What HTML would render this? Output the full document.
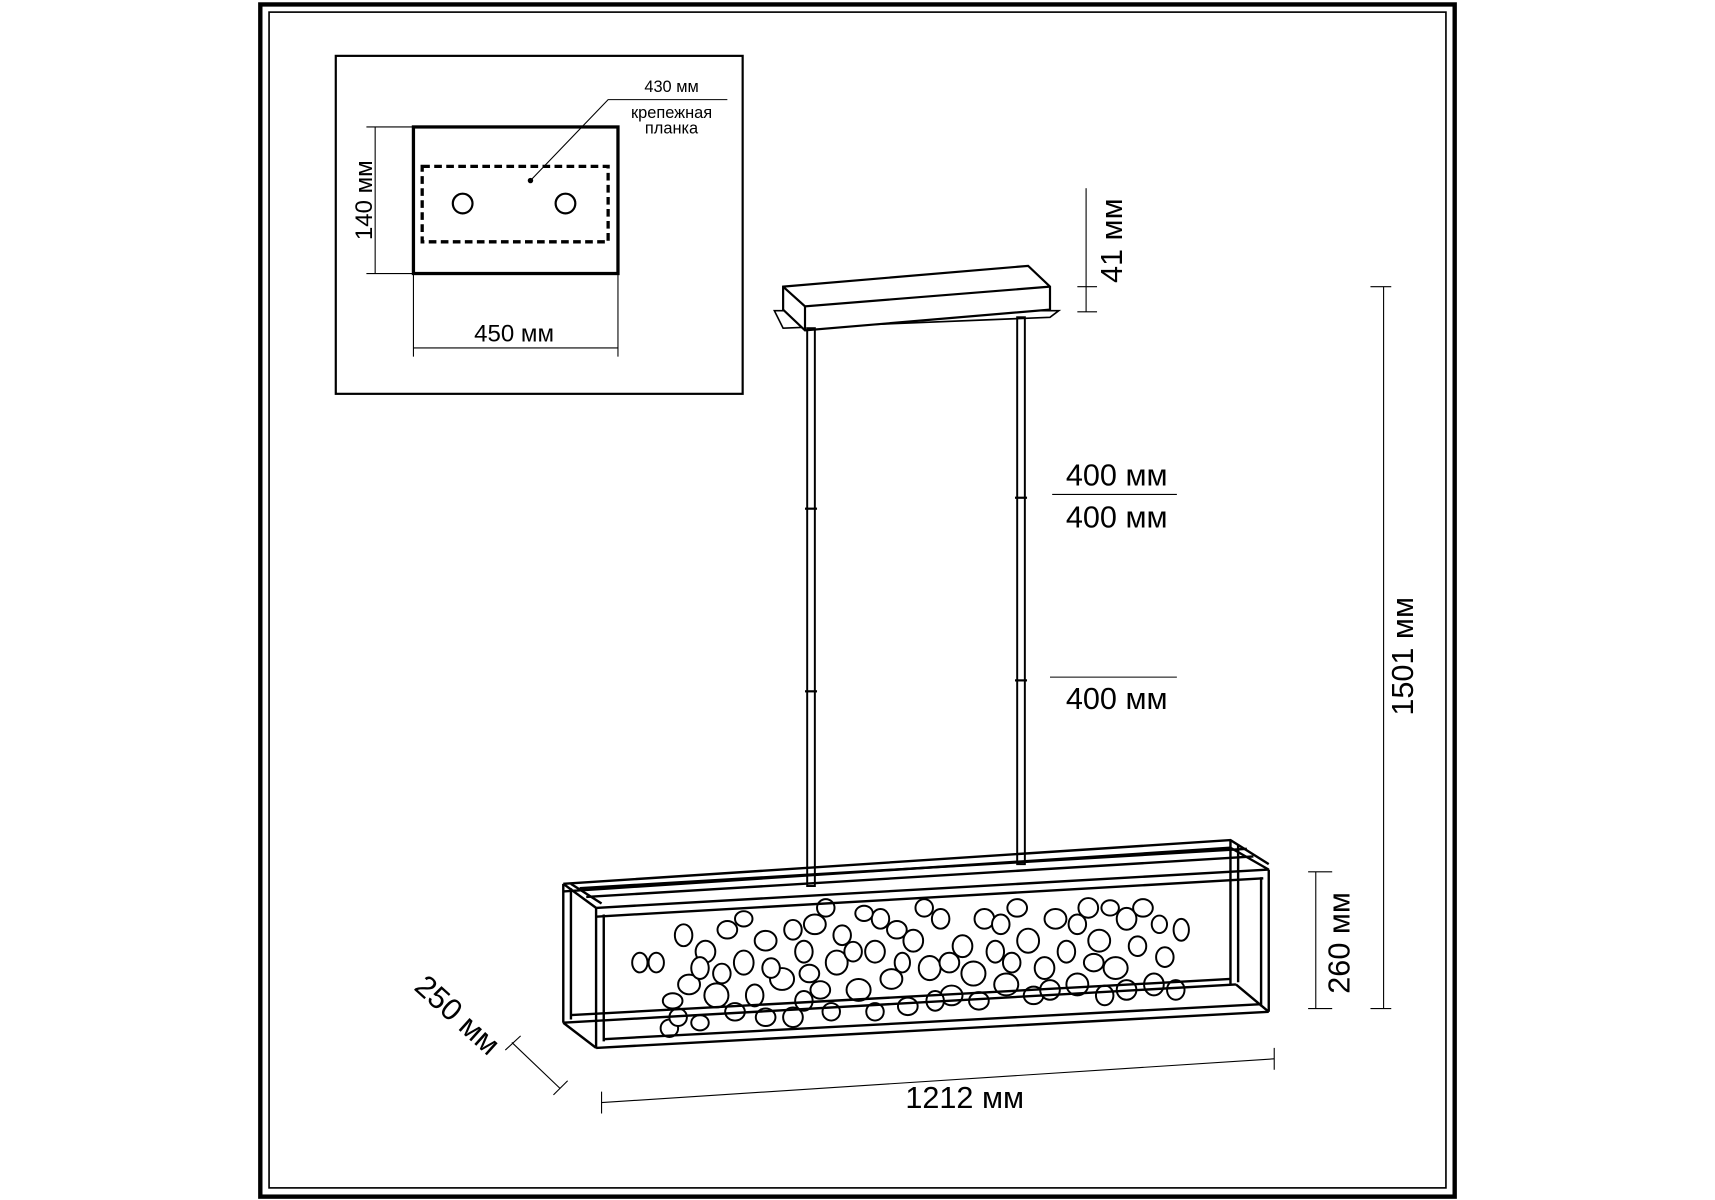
<!DOCTYPE html>
<html><head><meta charset="utf-8"><style>
html,body{margin:0;padding:0;background:#fff;width:1715px;height:1200px;overflow:hidden}
svg{display:block}
text{font-family:"Liberation Sans",sans-serif;fill:#000}
</style></head><body>
<svg width="1715" height="1200" viewBox="0 0 1568 1097" xmlns="http://www.w3.org/2000/svg">
<rect x="0" y="0" width="1568" height="1097" fill="#fff"/>
<rect x="238" y="4" width="1092" height="1090" fill="none" stroke="#000" stroke-width="4"/>
<rect x="246" y="11" width="1076" height="1075" fill="none" stroke="#000" stroke-width="1.5"/>
<rect x="307" y="51" width="372" height="309" fill="none" stroke="#000" stroke-width="2"/>
<rect x="378" y="116" width="187" height="134" fill="none" stroke="#000" stroke-width="3"/>
<rect x="386" y="152" width="170" height="69" fill="none" stroke="#000" stroke-width="3" stroke-dasharray="7,4"/>
<circle cx="423" cy="186" r="9" fill="none" stroke="#000" stroke-width="2"/>
<circle cx="517" cy="186" r="9" fill="none" stroke="#000" stroke-width="2"/>
<circle cx="485" cy="165" r="2.5" fill="#000"/>
<polyline points="485,165 556,91 665,91" fill="none" stroke="#000" stroke-width="1"/>
<text x="614" y="84" font-size="15" text-anchor="middle">430 мм</text>
<text x="614" y="108" font-size="15" text-anchor="middle">крепежная</text>
<text x="614" y="122" font-size="15" text-anchor="middle">планка</text>
<line x1="343" y1="116" x2="343" y2="250" stroke="#000" stroke-width="1"/>
<line x1="335" y1="116" x2="378" y2="116" stroke="#000" stroke-width="1"/>
<line x1="335" y1="250" x2="378" y2="250" stroke="#000" stroke-width="1"/>
<text transform="translate(340,183) rotate(-90)" font-size="22" text-anchor="middle">140 мм</text>
<line x1="378" y1="250" x2="378" y2="326" stroke="#000" stroke-width="1"/>
<line x1="565" y1="250" x2="565" y2="326" stroke="#000" stroke-width="1"/>
<line x1="378" y1="318" x2="565" y2="318" stroke="#000" stroke-width="1"/>
<text x="470" y="312" font-size="22" text-anchor="middle">450 мм</text>
<polygon points="708,284 968,284 960,290 716,300" fill="none" stroke="#000" stroke-width="1.5"/>
<polygon points="716,262 940,243 960,262 960,283 736,302 716,283" fill="#fff" stroke="#000" stroke-width="2"/>
<polyline points="716,262 736,280 960,262" fill="none" stroke="#000" stroke-width="2"/>
<line x1="736" y1="280" x2="736" y2="302" stroke="#000" stroke-width="2"/>
<rect x="738" y="300" width="7" height="510" fill="none" stroke="#000" stroke-width="1.8"/>
<rect x="930" y="290" width="7" height="500" fill="none" stroke="#000" stroke-width="1.8"/>
<line x1="736" y1="465" x2="747" y2="465" stroke="#000" stroke-width="2"/>
<line x1="928" y1="455" x2="939" y2="455" stroke="#000" stroke-width="2"/>
<line x1="736" y1="632" x2="747" y2="632" stroke="#000" stroke-width="2"/>
<line x1="928" y1="622" x2="939" y2="622" stroke="#000" stroke-width="2"/>
<line x1="993" y1="172" x2="993" y2="285" stroke="#000" stroke-width="1"/>
<line x1="985" y1="262" x2="1003" y2="262" stroke="#000" stroke-width="1"/>
<line x1="985" y1="285" x2="1003" y2="285" stroke="#000" stroke-width="1"/>
<text transform="translate(1026,220) rotate(-90)" font-size="28" text-anchor="middle">41 мм</text>
<text x="1021" y="444" font-size="28" text-anchor="middle">400 мм</text>
<line x1="962" y1="452" x2="1076" y2="452" stroke="#000" stroke-width="1"/>
<text x="1021" y="482" font-size="28" text-anchor="middle">400 мм</text>
<line x1="960" y1="619" x2="1076" y2="619" stroke="#000" stroke-width="1"/>
<text x="1021" y="648" font-size="28" text-anchor="middle">400 мм</text>
<line x1="1265" y1="262" x2="1265" y2="922" stroke="#000" stroke-width="1"/>
<line x1="1253" y1="262" x2="1272" y2="262" stroke="#000" stroke-width="1"/>
<line x1="1253" y1="922" x2="1272" y2="922" stroke="#000" stroke-width="1"/>
<text transform="translate(1292,600) rotate(-90)" font-size="28" text-anchor="middle">1501 мм</text>
<line x1="1203" y1="797" x2="1203" y2="922" stroke="#000" stroke-width="1"/>
<line x1="1196" y1="797" x2="1218" y2="797" stroke="#000" stroke-width="1"/>
<line x1="1196" y1="922" x2="1218" y2="922" stroke="#000" stroke-width="1"/>
<text transform="translate(1234,862) rotate(-90)" font-size="28" text-anchor="middle">260 мм</text>
<line x1="468" y1="953" x2="512" y2="995" stroke="#000" stroke-width="1"/>
<line x1="462" y1="960" x2="476" y2="947" stroke="#000" stroke-width="1"/>
<line x1="506" y1="1001" x2="519" y2="988" stroke="#000" stroke-width="1"/>
<text transform="translate(412,935) rotate(42)" font-size="28" text-anchor="middle">250 мм</text>
<line x1="550" y1="1008" x2="1165" y2="968" stroke="#000" stroke-width="1"/>
<line x1="550" y1="998" x2="550" y2="1018" stroke="#000" stroke-width="1"/>
<line x1="1165" y1="958" x2="1165" y2="978" stroke="#000" stroke-width="1"/>
<text x="882" y="1013" font-size="28" text-anchor="middle">1212 мм</text>
<!-- flowers (behind front bars) -->
<g fill="#fff" stroke="#000" stroke-width="1.8">
<ellipse cx="600" cy="880" rx="7" ry="9"/><ellipse cx="615" cy="915" rx="9" ry="7"/><ellipse cx="612" cy="940" rx="8" ry="8"/>
<ellipse cx="630" cy="900" rx="10" ry="9"/><ellipse cx="645" cy="870" rx="9" ry="10"/><ellipse cx="625" cy="855" rx="8" ry="10"/>
<ellipse cx="655" cy="910" rx="11" ry="11"/><ellipse cx="640" cy="935" rx="8" ry="7"/><ellipse cx="665" cy="850" rx="9" ry="8"/>
<ellipse cx="680" cy="880" rx="9" ry="11"/><ellipse cx="690" cy="910" rx="8" ry="10"/><ellipse cx="700" cy="860" rx="10" ry="9"/>
<ellipse cx="715" cy="895" rx="11" ry="10"/><ellipse cx="725" cy="930" rx="9" ry="9"/><ellipse cx="735" cy="870" rx="8" ry="10"/>
<ellipse cx="745" cy="845" rx="10" ry="9"/><ellipse cx="750" cy="905" rx="9" ry="8"/><ellipse cx="765" cy="880" rx="10" ry="11"/>
<ellipse cx="770" cy="855" rx="8" ry="9"/><ellipse cx="785" cy="905" rx="11" ry="10"/><ellipse cx="800" cy="870" rx="9" ry="10"/>
<ellipse cx="805" cy="840" rx="8" ry="9"/><ellipse cx="815" cy="895" rx="10" ry="9"/><ellipse cx="830" cy="920" rx="9" ry="8"/>
<ellipse cx="835" cy="860" rx="9" ry="10"/><ellipse cx="850" cy="885" rx="10" ry="11"/><ellipse cx="860" cy="840" rx="8" ry="9"/>
<ellipse cx="870" cy="910" rx="10" ry="9"/><ellipse cx="880" cy="865" rx="9" ry="10"/><ellipse cx="890" cy="890" rx="11" ry="11"/>
<ellipse cx="900" cy="840" rx="9" ry="9"/><ellipse cx="910" cy="870" rx="8" ry="10"/><ellipse cx="920" cy="900" rx="11" ry="10"/>
<ellipse cx="930" cy="830" rx="9" ry="8"/><ellipse cx="940" cy="860" rx="10" ry="11"/><ellipse cx="955" cy="885" rx="9" ry="10"/>
<ellipse cx="965" cy="840" rx="10" ry="9"/><ellipse cx="975" cy="870" rx="8" ry="10"/><ellipse cx="985" cy="900" rx="10" ry="10"/>
<ellipse cx="995" cy="830" rx="9" ry="9"/><ellipse cx="1005" cy="860" rx="10" ry="10"/><ellipse cx="1020" cy="885" rx="11" ry="10"/>
<ellipse cx="1030" cy="840" rx="9" ry="10"/><ellipse cx="1040" cy="865" rx="8" ry="9"/><ellipse cx="1055" cy="900" rx="9" ry="10"/>
<ellipse cx="1065" cy="875" rx="8" ry="9"/><ellipse cx="1075" cy="905" rx="8" ry="9"/><ellipse cx="1080" cy="850" rx="7" ry="10"/>
<ellipse cx="725" cy="850" rx="8" ry="9"/><ellipse cx="790" cy="835" rx="8" ry="7"/><ellipse cx="660" cy="890" rx="8" ry="9"/>
<ellipse cx="700" cy="930" rx="9" ry="8"/><ellipse cx="760" cy="925" rx="8" ry="8"/><ellipse cx="855" cy="915" rx="8" ry="9"/>
<ellipse cx="945" cy="910" rx="9" ry="8"/><ellipse cx="1010" cy="910" rx="8" ry="9"/><ellipse cx="585" cy="880" rx="7" ry="9"/>
<ellipse cx="1045" cy="830" rx="9" ry="8"/><ellipse cx="680" cy="840" rx="8" ry="7"/><ellipse cx="825" cy="880" rx="7" ry="9"/>
<ellipse cx="640" cy="885" rx="8" ry="10"/><ellipse cx="672" cy="925" rx="9" ry="8"/><ellipse cx="705" cy="885" rx="8" ry="9"/>
<ellipse cx="740" cy="890" rx="9" ry="8"/><ellipse cx="755" cy="830" rx="8" ry="8"/><ellipse cx="780" cy="870" rx="8" ry="9"/>
<ellipse cx="820" cy="850" rx="9" ry="8"/><ellipse cx="845" cy="830" rx="8" ry="8"/><ellipse cx="868" cy="880" rx="9" ry="9"/>
<ellipse cx="895" cy="915" rx="9" ry="8"/><ellipse cx="925" cy="880" rx="8" ry="9"/><ellipse cx="960" cy="905" rx="9" ry="9"/>
<ellipse cx="985" cy="845" rx="8" ry="9"/><ellipse cx="1000" cy="880" rx="9" ry="8"/><ellipse cx="1030" cy="905" rx="9" ry="9"/>
<ellipse cx="1015" cy="830" rx="8" ry="7"/><ellipse cx="1060" cy="845" rx="7" ry="8"/><ellipse cx="620" cy="930" rx="8" ry="8"/>
<ellipse cx="735" cy="915" rx="8" ry="9"/><ellipse cx="800" cy="925" rx="8" ry="8"/><ellipse cx="915" cy="845" rx="8" ry="9"/>
</g>
<g fill="none" stroke="#000" stroke-width="2.2">
<polyline points="515,808 1125,768 1160,790"/>
<polyline points="515,815 1125,775"/>
<line x1="515" y1="808" x2="515" y2="935"/><line x1="522" y1="812" x2="522" y2="932"/>
<line x1="1125" y1="768" x2="1125" y2="900"/><line x1="1132" y1="772" x2="1132" y2="898"/>
<polyline points="515,935 1130,900"/>
<polyline points="522,928 1125,895"/>
<polyline points="515,808 545,830"/><polyline points="522,808 550,826"/>
<polyline points="530,812 1140,776"/>
<polyline points="536,820 1146,783"/>
<polyline points="545,830 1160,795"/><polyline points="545,838 1155,803"/>
<line x1="545" y1="830" x2="545" y2="958"/><line x1="552" y1="836" x2="552" y2="952"/>
<line x1="1160" y1="795" x2="1160" y2="925"/><line x1="1153" y1="802" x2="1153" y2="920"/>
<polyline points="545,958 1160,925"/><polyline points="552,950 1153,918"/>
<polyline points="515,935 545,958"/><polyline points="1130,900 1160,925"/><polyline points="1125,775 1160,795"/>
</g>
</svg>
</body></html>
